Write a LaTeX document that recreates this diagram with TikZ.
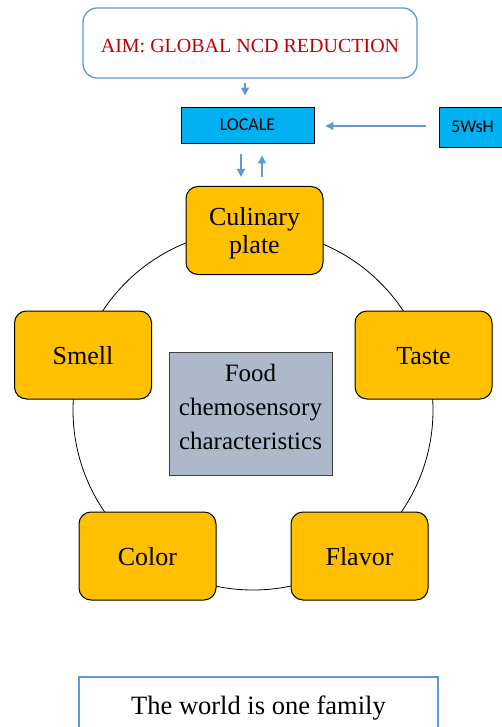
\documentclass[tikz,border=0pt]{standalone}
\usepackage{fontspec}
\setmainfont{Liberation Serif}
\newfontfamily\calib{Carlito}
\usetikzlibrary{arrows.meta}
\definecolor{bl}{HTML}{5B9BD5}
\definecolor{cy}{HTML}{00B0F0}
\definecolor{gold}{HTML}{FFC000}
\definecolor{slate}{HTML}{ADB9CA}
\definecolor{aimred}{HTML}{C00000}
\begin{document}
\begin{tikzpicture}[x=1pt,y=-1pt,
  aimbox/.style={draw=bl, line width=1.3pt, rounded corners=14pt, minimum width=334pt, minimum height=70pt, inner sep=0pt},
  cybox/.style={draw=black, line width=0.9pt, fill=cy, inner sep=0pt, font=\calib\fontsize{18}{22}\selectfont},
  petal/.style={draw=black, line width=1pt, fill=gold, rounded corners=12pt, minimum width=137pt, minimum height=88pt, inner sep=0pt},
  petaltxt/.style={inner sep=0pt, align=center, font=\fontsize{26}{28}\selectfont},
  foodbox/.style={draw=black!75, line width=1pt, fill=slate, minimum width=163pt, minimum height=123pt, inner sep=0pt},
  footbox/.style={draw=bl, line width=1.3pt, minimum width=359pt, minimum height=70pt, inner sep=0pt},
  arr/.style={draw=bl, line width=1.2pt, -{Triangle[width=8pt,length=8pt]}}
]
\useasboundingbox (0,0) rectangle (501,727);
\node[circle, draw=black, line width=0.8pt, minimum size=360pt, inner sep=0pt] (ring) at (253,410) {};
\node[aimbox] (aim) at (250,43) {};
\node[inner sep=0pt, text=aimred, font=\fontsize{20}{24}\selectfont] (aimtxt) at (250,46) {AIM: GLOBAL NCD REDUCTION};
\node[cybox, minimum width=133pt, minimum height=36pt] (locale) at (247.5,125) {LOCALE};
\node[cybox, minimum width=67pt, minimum height=40pt] (fivew) at (472.5,127) {5WsH};
\node[petal] (culinary) at (254.5,230.5) {};
\node[petaltxt] (culinarytxt) at (254.5,233) {Culinary\\plate};
\node[petal] (smell) at (83,355) {};
\node[petaltxt] (smelltxt) at (83,356) {Smell};
\node[petal] (taste) at (423.5,355) {};
\node[petaltxt] (tastetxt) at (423.5,356) {Taste};
\node[petal] (color) at (147.5,556) {};
\node[petaltxt] (colortxt) at (147.5,557) {Color};
\node[petal] (flavor) at (359.5,556) {};
\node[petaltxt] (flavortxt) at (359.5,557) {Flavor};
\node[foodbox] (food) at (250.5,413.5) {};
\node[align=center, inner sep=0pt, font=\fontsize{25}{34}\selectfont] (foodtxt) at (250.5,407) {Food\\chemosensory\\characteristics};
\node[footbox] (foot) at (258.5,712) {};
\node[inner sep=0pt, font=\fontsize{26.5}{30}\selectfont] (foottxt) at (258.5,708) {The world is one family};
\draw[arr, shorten <=4pt, shorten >=11pt] ([xshift=-5pt]aim.south) -- ([xshift=-2.5pt]locale.north);
\draw[arr, shorten <=13pt, shorten >=11pt] ([yshift=1pt]fivew.west) -- ([yshift=-1pt]locale.east);
\draw[arr, shorten <=11pt, shorten >=9pt] ([xshift=-6.5pt]locale.south) -- ([xshift=-13.5pt]culinary.north);
\draw[arr, shorten <=9pt, shorten >=12pt] ([xshift=7.5pt]culinary.north) -- ([xshift=14.5pt]locale.south);
\end{tikzpicture}
\end{document}
